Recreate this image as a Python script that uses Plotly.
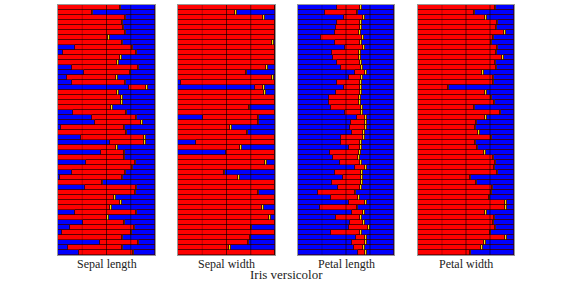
import plotly.graph_objects as go

panels = ["Sepal length", "Sepal width", "Petal length", "Petal width"]
title = "Iris versicolor"

# red segment start / end (fraction of panel width), 50 rows, top to bottom
sl_start = [0, 0, 0, 0, 0, 0, 0, 0, 0.18, 0.05, 0, 0, 0.14, 0.27, 0.09, 0.14, 0.73,
            0, 0, 0, 0, 0.15, 0.35, 0.38, 0.03, 0, 0.24, 0.54, 0, 0.44, 0, 0.29, 0,
            0.14, 0.02, 0, 0.28, 0, 0, 0, 0, 0.18, 0, 0.26, 0.12, 0.04, 0, 0.43, 0.10, 0.22]
sl_end = [0.635, 0.35, 0.69, 0.66, 0.67, 0.69, 0.52, 0.66, 0.76, 0.80, 0.64, 0.61, 0.82,
          0.74, 0.60, 0.69, 0.91, 0.61, 0.65, 0.65, 0.55, 0.70, 0.80, 0.86, 0.68, 0.70,
          0.89, 0.89, 0.60, 0.68, 0.68, 0.79, 0.76, 0.69, 0.66, 0.45, 0.80, 0.79, 0.58,
          0.64, 0.54, 0.80, 0.51, 0.68, 0.78, 0.75, 0.66, 0.82, 0.66, 0.77]

sw_start = [0, 0, 0, 0, 0, 0, 0, 0, 0, 0, 0, 0, 0, 0, 0, 0.03, 0.79, 0, 0, 0, 0, 0,
            0.26, 0, 0, 0, 0, 0.19, 0, 0.49, 0, 0, 0, 0, 0, 0, 0, 0, 0, 0, 0, 0, 0,
            0, 0, 0, 0, 0, 0, 0]
sw_end = [1.0, 0.59, 0.88, 1.0, 1.0, 1.0, 1.0, 0.97, 1.0, 1.0, 1.0, 1.0, 0.91, 0.70,
          0.97, 1.0, 0.88, 0.89, 1.0, 1.0, 0.73, 1.0, 0.82, 0.82, 0.54, 0.71, 1.0, 1.0,
          0.64, 1.0, 1.0, 0.90, 1.0, 0.47, 0.62, 1.0, 1.0, 0.82, 1.0, 1.0, 0.87, 1.0,
          0.94, 1.0, 0.75, 1.0, 0.74, 0.72, 0.53, 1.0]

pl_start = [0.41, 0.28, 0.48, 0.41, 0.40, 0.39, 0.24, 0.39, 0.49, 0.35, 0.36, 0.41, 0.45,
            0.59, 0.53, 0.41, 0.48, 0.40, 0.32, 0.32, 0.34, 0.49, 0.61, 0.55, 0.54, 0.56,
            0.45, 0.45, 0.53, 0.33, 0.36, 0.44, 0.59, 0.39, 0.47, 0.35, 0.42, 0.21, 0.34,
            0.53, 0.23, 0.56, 0.40, 0.54, 0.53, 0.34, 0.60, 0.56, 0.58, 0.62]
pl_end = [0.65, 0.61, 0.68, 0.65, 0.65, 0.64, 0.67, 0.65, 0.68, 0.64, 0.64, 0.65, 0.66,
          0.70, 0.66, 0.65, 0.65, 0.65, 0.64, 0.64, 0.66, 0.66, 0.70, 0.70, 0.70, 0.68,
          0.68, 0.65, 0.65, 0.64, 0.63, 0.65, 0.70, 0.66, 0.66, 0.66, 0.65, 0.59, 0.63,
          0.70, 0.61, 0.68, 0.65, 0.68, 0.73, 0.65, 0.70, 0.70, 0.68, 0.70]

pw_start = [0] * 50
pw_end = [0.80, 0.58, 0.70, 0.82, 0.81, 0.90, 0.78, 0.76, 0.82, 0.81, 0.88, 0.80, 0.81,
          0.67, 0.78, 0.78, 0.31, 0.70, 0.76, 0.79, 0.58, 0.85, 0.70, 0.60, 0.59, 0.63,
          0.76, 0.59, 0.61, 0.69, 0.78, 0.80, 0.79, 0.82, 0.54, 0.60, 0.77, 0.76, 0.74,
          0.91, 0.91, 0.70, 0.79, 0.78, 0.80, 0.75, 0.91, 0.69, 0.66, 0.54]

starts = [sl_start, sw_start, pl_start, pw_start]
ends = [sl_end, sw_end, pl_end, pw_end]

RED = "#fe0000"
BLUE = "#0000fe"
YEL = "#f0e000"
EDGE = "rgba(60,0,0,0.75)"

dom_x = [(58, 155), (178, 275), (298, 394), (418, 514)]
W, H = 568, 283
ydom = [1 - 255 / H, 1 - 5 / H]

fig = go.Figure()
rows = list(range(50))
for i in range(4):
    st, en = starts[i], ends[i]
    yw = [min(0.015, max(0.0, 1 - e)) for e in en]
    segs = [
        (st, BLUE),
        ([e - s for s, e in zip(st, en)], RED),
        (yw, YEL),
        ([max(0.0, 1 - e - w) for e, w in zip(en, yw)], BLUE),
    ]
    ax = "" if i == 0 else str(i + 1)
    for vals, col in segs:
        fig.add_trace(go.Bar(
            x=vals, y=rows, orientation="h",
            marker=dict(color=col, line=dict(color=EDGE, width=0.8)),
            xaxis="x" + ax, yaxis="y" + ax, showlegend=False, hoverinfo="skip",
        ))
    x0, x1 = dom_x[i]
    fig.layout["xaxis" + ax] = dict(
        domain=[x0 / W, x1 / W], range=[0, 1], showticklabels=False, showgrid=False,
        zeroline=False, showline=True, mirror=True, linecolor="#999999", linewidth=1,
        anchor="y" + ax, fixedrange=True,
    )
    fig.layout["yaxis" + ax] = dict(
        domain=ydom, range=[49.5, -0.5], showticklabels=False, showgrid=False,
        zeroline=False, showline=True, mirror=True, linecolor="#999999", linewidth=1,
        anchor="x" + ax, fixedrange=True,
    )
    for xv, op in [(0.25, 0.25), (0.5, 0.6), (0.75, 0.55)]:
        fig.add_shape(type="line", xref="x" + ax, yref="y" + ax,
                      x0=xv, x1=xv, y0=-0.5, y1=49.5,
                      line=dict(color="rgba(0,0,0,%s)" % op, width=1))
    fig.add_annotation(text=panels[i], xref="paper", yref="paper",
                       x=(x0 + x1) / 2 / W, y=1 - 264 / H, showarrow=False,
                       xanchor="center", yanchor="middle",
                       font=dict(family="Liberation Serif", size=12, color="#222222"))

fig.add_annotation(text=title, xref="paper", yref="paper",
                   x=286 / W, y=1 - 274 / H, showarrow=False,
                   xanchor="center", yanchor="middle",
                   font=dict(family="Liberation Serif", size=13, color="#222222"))

fig.update_layout(
    width=W, height=H, margin=dict(l=0, r=0, t=0, b=0),
    barmode="stack", bargap=0, plot_bgcolor="white", paper_bgcolor="white",
)
fig.write_html("out.html", config={"displayModeBar": False},
               post_script="document.body.style.margin='0';document.body.style.overflow='hidden';")
